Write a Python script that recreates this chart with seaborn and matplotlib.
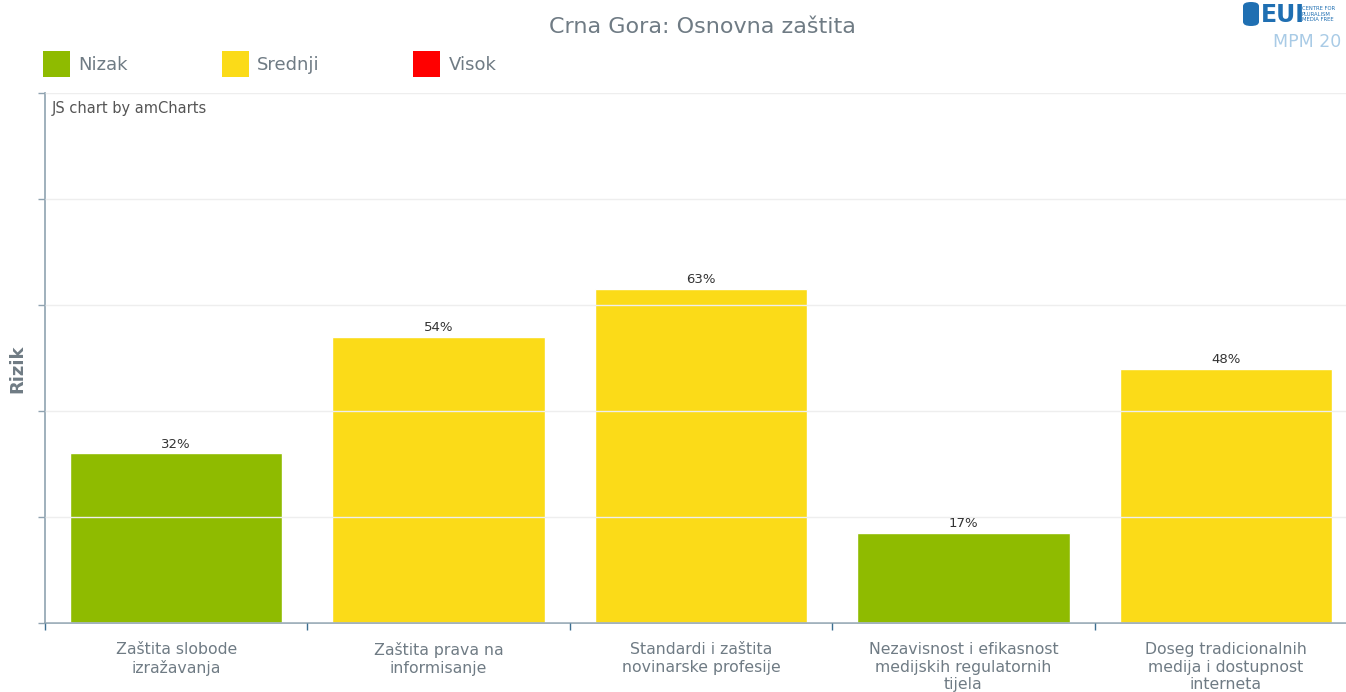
import matplotlib
matplotlib.use("Agg")
import matplotlib.pyplot as plt
import matplotlib.patches as mpatches
import numpy as np
import pandas as pd
import seaborn as sns

# data
categories = [
    "Zaštita slobode\nizražavanja",
    "Zaštita prava na\ninformisanje",
    "Standardi i zaštita\nnovinarske profesije",
    "Nezavisnost i efikasnost\nmedijskih regulatornih\ntijela",
    "Doseg tradicionalnih\nmedija i dostupnost\ninterneta",
]
risk_values = [32, 54, 63, 17, 48]
risk_levels = ["Nizak", "Srednji", "Srednji", "Nizak", "Srednji"]
legend_levels = ["Nizak", "Srednji", "Visok"]
level_colors = {"Nizak": "#8fbb00", "Srednji": "#fbdb18", "Visok": "#ff0000"}

TEXT_GREY = "#6f7b84"
AXIS_GREY = "#8fa3b0"

sns.set_theme(style="white")
plt.rcParams["font.family"] = ["DejaVu Sans"]

df = pd.DataFrame({"kategorija": categories, "rizik": risk_values, "nivo": risk_levels})

fig = plt.figure(figsize=(13.46, 6.92), dpi=100)
ax = fig.add_axes([45 / 1346, 69 / 692, 1312 / 1346, 530 / 692])

sns.barplot(
    data=df, x="kategorija", y="rizik", hue="nivo",
    palette=level_colors, dodge=False, width=0.81,
    saturation=1, legend=False, ax=ax, zorder=1,
)

for cont in ax.containers:
    ax.bar_label(cont, fmt="%.0f%%", padding=2, fontsize=9.5, color="#333333")

ax.set_ylim(0, 100)
ax.set_xlim(-0.5, len(categories) - 0.5)
ax.set_yticks([0, 20, 40, 60, 80, 100])
ax.set_yticklabels([])
ax.tick_params(axis="y", left=True, length=5, color=AXIS_GREY, width=1)
ax.yaxis.grid(True, color="#eeeeee", linewidth=1, zorder=3)
ax.set_axisbelow(False)

ax.set_xticks(np.arange(len(categories)))
ax.set_xticklabels(categories, fontsize=11.3, color=TEXT_GREY, linespacing=1.2)
ax.tick_params(axis="x", length=0, pad=14)
ax.set_xticks(np.arange(len(categories) + 1) - 0.5, minor=True)
ax.tick_params(axis="x", which="minor", bottom=True, length=5, color="#3d6f91", width=1)

ax.set_xlabel("")
ax.set_ylabel("Rizik", fontsize=13, fontweight="bold", color=TEXT_GREY)
ax.yaxis.set_label_coords(-19 / 1312, 0.48)

for side in ["top", "right"]:
    ax.spines[side].set_visible(False)
for side in ["left", "bottom"]:
    ax.spines[side].set_color(AXIS_GREY)
    ax.spines[side].set_linewidth(1.2)

ax.text(0.005, 0.985, "JS chart by amCharts", transform=ax.transAxes,
        fontsize=10.5, color="#555555", ha="left", va="top")

fig.text(0.522, 0.961, "Crna Gora: Osnovna zaštita", fontsize=16,
         color=TEXT_GREY, ha="center", va="center")

handles = [mpatches.Patch(facecolor=level_colors[l], edgecolor="none", label=l)
           for l in legend_levels]
leg = fig.legend(handles=handles, loc="upper left", bbox_to_anchor=(0.032, 0.927),
                 ncol=3, frameon=False, fontsize=13, handlelength=1.5,
                 handleheight=1.9, handletextpad=0.45, columnspacing=5.2,
                 borderaxespad=0, borderpad=0)
for t in leg.get_texts():
    t.set_color(TEXT_GREY)

# EUI logo (approximation)
fig.patches.append(mpatches.FancyBboxPatch(
    (1243 / 1346, 666 / 692), 16 / 1346, 24 / 692, boxstyle="round,pad=0,rounding_size=0.006",
    transform=fig.transFigure, facecolor="#1f6fb2", edgecolor="none"))
fig.text(1261 / 1346, 677 / 692, "EUI", fontsize=17, fontweight="bold",
         color="#1f6fb2", ha="left", va="center")
fig.text(1302 / 1346, 678 / 692, "CENTRE FOR\nPLURALISM\nMEDIA FREE", fontsize=3.8,
         color="#1f6fb2", ha="left", va="center", linespacing=1.1)
fig.text(1273 / 1346, 650 / 692, "MPM 20", fontsize=12.5, color="#a9cbe6",
         ha="left", va="center")

fig.savefig("out.png", dpi=100)
